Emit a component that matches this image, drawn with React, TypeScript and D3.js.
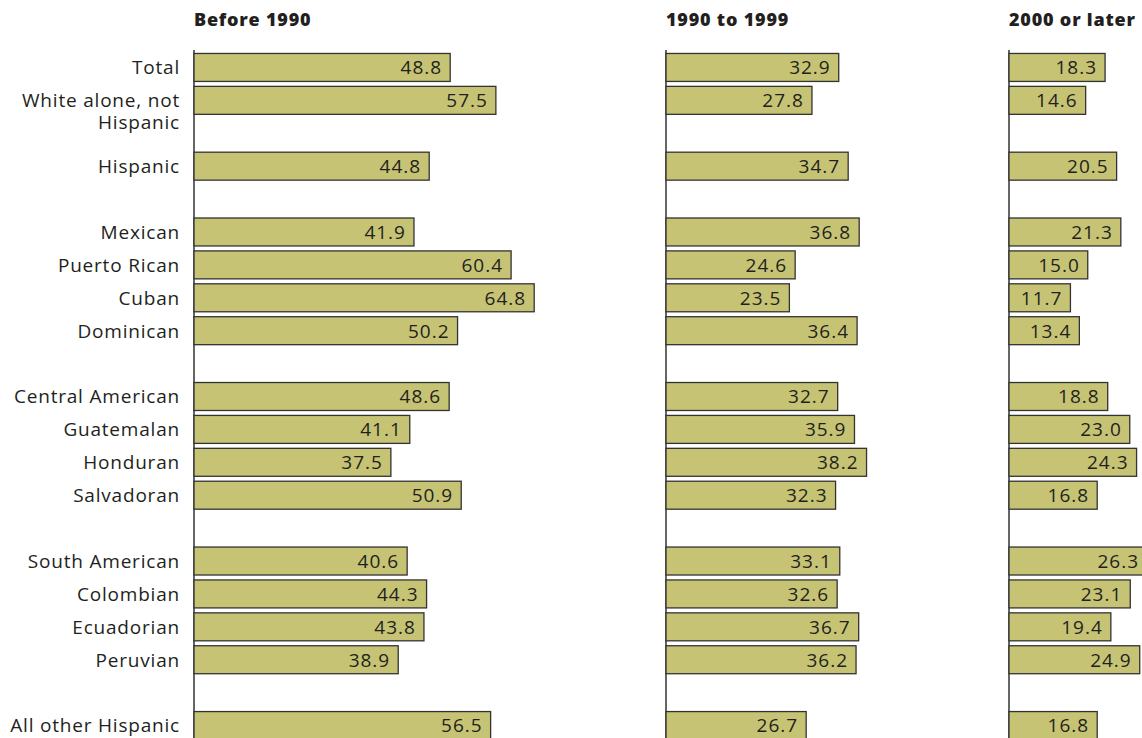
import React from 'react';
import * as d3 from 'd3';

// row slots; null marks the blank spacer rows
const categories: (string | null)[] = [
  'Total', 'White alone, not Hispanic', null, 'Hispanic', null,
  'Mexican', 'Puerto Rican', 'Cuban', 'Dominican', null,
  'Central American', 'Guatemalan', 'Honduran', 'Salvadoran', null,
  'South American', 'Colombian', 'Ecuadorian', 'Peruvian', null,
  'All other Hispanic',
];

const before1990: (number | null)[] = [
  48.8, 57.5, null, 44.8, null,
  41.9, 60.4, 64.8, 50.2, null,
  48.6, 41.1, 37.5, 50.9, null,
  40.6, 44.3, 43.8, 38.9, null,
  56.5,
];
const from1990to1999: (number | null)[] = [
  32.9, 27.8, null, 34.7, null,
  36.8, 24.6, 23.5, 36.4, null,
  32.7, 35.9, 38.2, 32.3, null,
  33.1, 32.6, 36.7, 36.2, null,
  26.7,
];
const from2000: (number | null)[] = [
  18.3, 14.6, null, 20.5, null,
  21.3, 15.0, 11.7, 13.4, null,
  18.8, 23.0, 24.3, 16.8, null,
  26.3, 23.1, 19.4, 24.9, null,
  16.8,
];

const panelTitles = ['Before 1990', '1990 to 1999', '2000 or later'];
const panelValues = [before1990, from1990to1999, from2000];
const panelX = [194, 666, 1009];

const W = 1142;
const H = 738;
const font = '"Open Sans", sans-serif';
const ink = '#231f20';

export default function App() {
  const y = d3.scaleBand<number>()
    .domain(d3.range(categories.length))
    .range([51, 742])
    .paddingInner(0.15)
    .paddingOuter(0.075);
  const x = d3.scaleLinear().domain([0, 10]).range([0, 52.5]);

  const label = (key: string, txt: string, cy: number) => (
    <text key={key} x={180} y={cy} dy="0.36em" textAnchor="end" fontFamily={font}
      fontSize={19} letterSpacing={0.8} fill={ink}>
      {txt}
    </text>
  );

  return (
    <svg width={W} height={H} style={{ position: 'absolute', left: 0, top: 0 }}>
      {categories.map((c, i) => {
        if (!c) return null;
        const cy = y(i)! + y.bandwidth() / 2;
        if (c === 'White alone, not Hispanic') {
          return (
            <g key={i}>
              {label('a', 'White alone, not', cy - 0.5)}
              {label('b', 'Hispanic', cy + 22)}
            </g>
          );
        }
        return label(String(i), c, cy);
      })}
      {panelValues.map((vals, p) => (
        <g key={p} transform={`translate(${panelX[p]},0)`}>
          <text x={0} y={26} fontFamily={font} fontWeight={800} fontSize={18}
            letterSpacing={0.8} fill={ink}>
            {panelTitles[p]}
          </text>
          <line x1={0} x2={0} y1={50} y2={H} stroke="#333" strokeWidth={1.5} />
          {vals.map((v, i) => {
            if (v == null) return null;
            const top = y(i)!;
            return (
              <g key={i}>
                <rect x={0} y={top} width={x(v)} height={y.bandwidth()}
                  fill="#c6c474" stroke="#333" strokeWidth={1.3} />
                <text x={x(v) - 8} y={top + y.bandwidth() / 2} dy="0.36em" textAnchor="end"
                  fontFamily={font} fontSize={19} letterSpacing={1} fill={ink}>
                  {v.toFixed(1)}
                </text>
              </g>
            );
          })}
        </g>
      ))}
    </svg>
  );
}
